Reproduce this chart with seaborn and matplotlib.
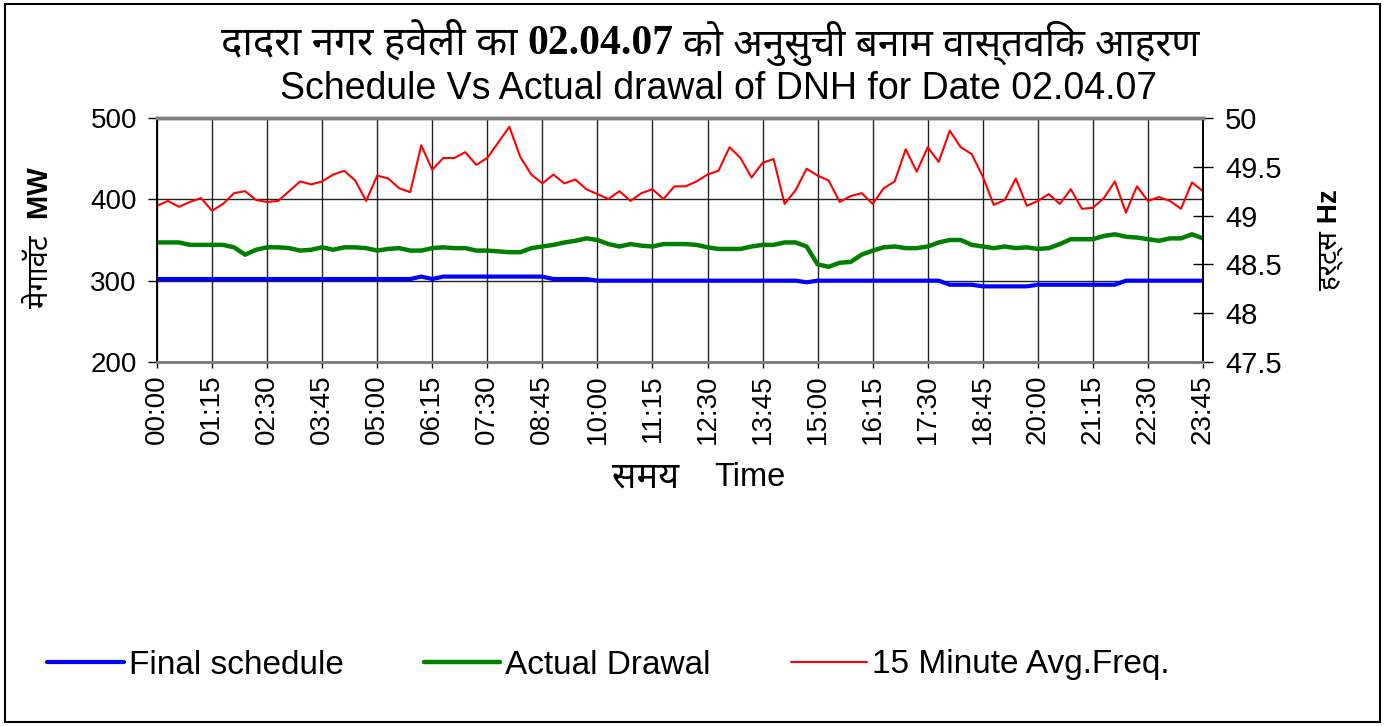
import numpy as np
import pandas as pd
import seaborn as sns
import matplotlib.pyplot as plt
from matplotlib import font_manager
from matplotlib.ft2font import FT2Font
from matplotlib.patches import Rectangle

sns.set_style("white")

# 15-minute blocks, 00:00 .. 23:45
tick_labels = ["00:00", "01:15", "02:30", "03:45", "05:00", "06:15", "07:30",
               "08:45", "10:00", "11:15", "12:30", "13:45", "15:00", "16:15",
               "17:30", "18:45", "20:00", "21:15", "22:30", "23:45"]

final_schedule = [
    302, 302, 302, 302, 302, 302, 302, 302, 302, 302, 302, 302,
    302, 302, 302, 302, 302, 302, 302, 302, 302, 302, 302, 302,
    305, 302, 305, 305, 305, 305, 305, 305, 305, 305, 305, 305,
    302, 302, 302, 302, 300, 300, 300, 300, 300, 300, 300, 300,
    300, 300, 300, 300, 300, 300, 300, 300, 300, 300, 300, 298,
    300, 300, 300, 300, 300, 300, 300, 300, 300, 300, 300, 300,
    295, 295, 295, 293, 293, 293, 293, 293, 295, 295, 295, 295,
    295, 295, 295, 295, 300, 300, 300, 300, 300, 300, 300, 300,
]

actual_drawal = [
    347, 347, 347, 344, 344, 344, 344, 341, 332, 338, 341, 341,
    340, 337, 338, 341, 338, 341, 341, 340, 337, 339, 340, 337,
    337, 340, 341, 340, 340, 337, 337, 336, 335, 335, 340, 342,
    344, 347, 349, 352, 350, 345, 342, 345, 343, 342, 345, 345,
    345, 344, 341, 339, 339, 339, 342, 344, 344, 347, 347, 342,
    320, 317, 322, 323, 332, 337, 341, 342, 340, 340, 342, 347,
    350, 350, 344, 342, 340, 342, 340, 341, 339, 340, 345, 351,
    351, 351, 355, 357, 354, 353, 351, 349, 352, 352, 357, 352,
]

avg_freq = [
    49.10, 49.15, 49.09, 49.14, 49.18, 49.05, 49.12, 49.23, 49.25, 49.16, 49.14, 49.15,
    49.25, 49.35, 49.32, 49.35, 49.42, 49.46, 49.36, 49.15, 49.41, 49.38, 49.28, 49.24,
    49.72, 49.47, 49.59, 49.59, 49.65, 49.52, 49.59, 49.75, 49.91, 49.60, 49.42, 49.33,
    49.42, 49.33, 49.37, 49.27, 49.22, 49.17, 49.25, 49.15, 49.23, 49.27, 49.17, 49.30,
    49.30, 49.35, 49.42, 49.46, 49.70, 49.59, 49.39, 49.54, 49.58, 49.12, 49.26, 49.48,
    49.41, 49.36, 49.14, 49.20, 49.23, 49.12, 49.28, 49.35, 49.68, 49.45, 49.70, 49.55,
    49.87, 49.70, 49.63, 49.40, 49.11, 49.16, 49.38, 49.10, 49.15, 49.22, 49.12, 49.27,
    49.07, 49.08, 49.18, 49.35, 49.03, 49.30, 49.15, 49.19, 49.15, 49.07, 49.34, 49.25,
]


def devanagari_font():
    found = []
    for f in font_manager.fontManager.ttflist:
        try:
            if 0x0926 in FT2Font(f.fname).get_charmap():
                found.append(f.name)
        except Exception:
            pass
    for name in ["Noto Sans Devanagari", "Mukta", "Hind", "FreeSans",
                 "Annapurna SIL", "Anek Devanagari"]:
        if name in found:
            return name
    return found[0] if found else "DejaVu Sans"


DEV = devanagari_font()
LATIN = "Liberation Sans"

plt.rcParams["font.family"] = [LATIN, DEV]
for key in ("text.color", "axes.labelcolor", "xtick.color", "ytick.color"):
    plt.rcParams[key] = "black"

df = pd.DataFrame({
    "block": np.arange(len(final_schedule)),
    "schedule": final_schedule,
    "drawal": actual_drawal,
    "freq": avg_freq,
})

W, H = 1391, 726
fig = plt.figure(figsize=(W / 100, H / 100), dpi=100)
ax = fig.add_axes([157 / W, 1 - 362 / H, (1203 - 157) / W, (362 - 118) / H])
ax2 = ax.twinx()

sns.lineplot(data=df, x="block", y="schedule", ax=ax, color="#0000FF", lw=3.0,
             label="Final schedule")
sns.lineplot(data=df, x="block", y="drawal", ax=ax, color="#008000", lw=3.2,
             label="Actual Drawal")
sns.lineplot(data=df, x="block", y="freq", ax=ax2, color="#FF0000", lw=1.5,
             label="15 Minute Avg.Freq.")

h1, l1 = ax.get_legend_handles_labels()
h2, l2 = ax2.get_legend_handles_labels()
ax.get_legend().remove()
ax2.get_legend().remove()

ax.set_xlim(0, len(final_schedule) - 1)
ax.set_ylim(200, 500)
ax2.set_ylim(47.5, 50)
ax.set_yticks([200, 300, 400, 500])
ax2.set_yticks([47.5, 48, 48.5, 49, 49.5, 50])
ax2.set_yticklabels(["47.5", "48", "48.5", "49", "49.5", "50"])
ax.set_xticks(np.arange(0, len(final_schedule), 5))
ax.set_xticklabels(tick_labels, rotation=90)
ax.set_xlabel("")
ax.set_ylabel("")
ax2.set_ylabel("")

ax.grid(True, color="#222222", lw=1.0)
ax.set_axisbelow(True)

ax.tick_params(axis="y", direction="out", length=6.5, width=1, pad=8, labelsize=20, left=True)
ax.tick_params(axis="x", direction="out", length=4, width=1, pad=5, labelsize=20, bottom=True)
ax2.tick_params(axis="y", direction="inout", length=14, width=1, pad=9, labelsize=21, right=True)

for a in (ax, ax2):
    a.spines["top"].set_color("#808080")
    a.spines["top"].set_linewidth(2.5)
    a.spines["bottom"].set_color("#808080")
    a.spines["bottom"].set_linewidth(2)
    a.spines["left"].set_color("black")
    a.spines["right"].set_color("black")
    a.spines["left"].set_linewidth(1.2)
    a.spines["right"].set_linewidth(1.2)

# title: Hindi line with bold serif date, then English line
date_txt = fig.text(600 / W, 1 - 44 / H, "02.04.07", ha="center", va="center",
                    fontsize=30, fontweight="bold", family="Liberation Serif")
ax.annotate("दादरा नगर हवेली का", xy=(0, 0.5), xycoords=date_txt, xytext=(-7, 0),
            textcoords="offset points", ha="right", va="center", fontsize=29,
            family=[DEV, LATIN], annotation_clip=False)
ax.annotate("को अनुसुची बनाम वास्तविक आहरण", xy=(1, 0.5), xycoords=date_txt,
            xytext=(7, 0), textcoords="offset points", ha="left", va="center",
            fontsize=28, family=[DEV, LATIN], annotation_clip=False)
fig.text(719 / W, 1 - 89 / H, "Schedule Vs Actual drawal of DNH for Date 02.04.07",
         ha="center", va="center", fontsize=27)

fig.text(40 / W, 1 - 238 / H, "मेगावॅट  MW", rotation=90, ha="center", va="center",
         fontsize=21, fontweight="bold", family=[LATIN, DEV])
fig.text(1330 / W, 1 - 240 / H, "हर्ट्स Hz", rotation=90, ha="center", va="center",
         fontsize=20, fontweight="bold", family=[LATIN, DEV])
fig.text(646 / W, 1 - 478 / H, "समय", ha="center", va="center", fontsize=26,
         family=[DEV, LATIN])
fig.text(750 / W, 1 - 477 / H, "Time", ha="center", va="center", fontsize=23.5)

fig.legend(h1 + h2, l1 + l2, loc="center left", bbox_to_anchor=(47 / W, 1 - 665 / H),
           ncol=3, frameon=False, fontsize=24, handlelength=2.3, handletextpad=0.15,
           columnspacing=2.4, borderpad=0, borderaxespad=0)

fig.patches.append(Rectangle((5 / W, 4 / H), (1380 - 5) / W, (722 - 4) / H,
                             transform=fig.transFigure, fill=False, ec="black", lw=1.5))

fig.savefig("out.png", dpi=100)
